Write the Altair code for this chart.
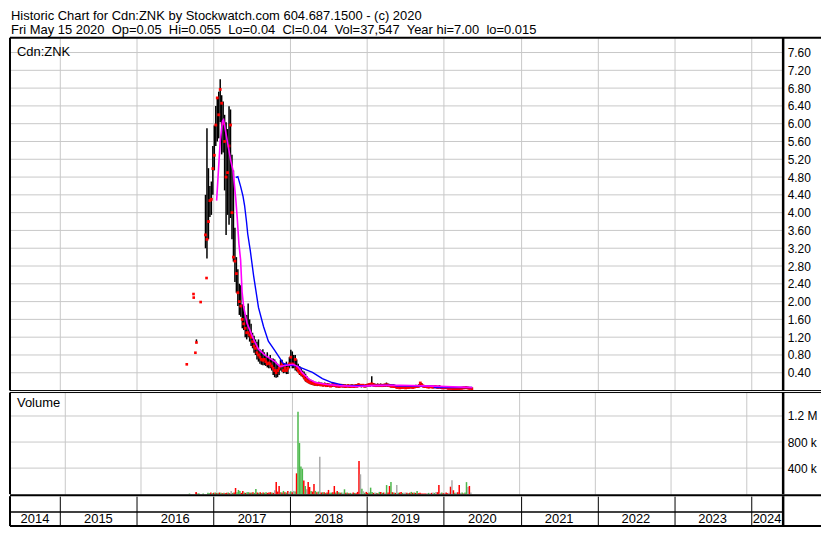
import altair as alt
import pandas as pd

F = "Liberation Sans"
W, HP, HV, HY = 776, 354, 102, 30
AX = 38
SP = "\u00a0 "
GRID = "#c8c8c8"

title_lines = [
    "Historic Chart for Cdn:ZNK by Stockwatch.com 604.687.1500 - (c) 2020",
    "Fri May 15 2020" + SP + "Op=0.05" + SP + "Hi=0.055" + SP + "Lo=0.04" + SP + "Cl=0.04" + SP
    + "Vol=37,547" + SP + "Year hi=7.00" + SP + "lo=0.015",
]

# ---- weekly price bars (high / low / close), weeks from 2016-11-21 ----
high = [
    4.4, 5.9, 5.0, 4.6, 4.7, 5.5, 5.96, 6.4, 6.6, 6.72,
    7.0, 6.64, 6.5, 6.2, 6.03, 5.88, 6.39, 6.32, 5.3, 4.95,
    3.66, 3.0, 2.73, 2.4, 2.37, 1.94, 1.9, 1.72, 1.7, 1.96,
    1.6, 1.5, 1.3, 1.23, 1.15, 1.1, 1.15, 0.93, 0.9, 0.93,
    0.86, 0.8, 0.86, 0.75, 0.8, 0.72, 0.72, 0.7, 0.65, 0.6,
    0.55, 0.69, 0.69, 0.62, 0.6, 0.65, 0.6, 0.75, 0.92, 0.88,
    0.8, 0.8, 0.7, 0.6, 0.55, 0.5, 0.45, 0.43, 0.38, 0.32,
    0.28, 0.25, 0.24, 0.22, 0.2, 0.2, 0.19, 0.2, 0.18, 0.18,
    0.17, 0.18, 0.16, 0.17, 0.16, 0.15, 0.16, 0.17, 0.15, 0.15,
    0.15, 0.14, 0.15, 0.14, 0.15, 0.14, 0.13, 0.14, 0.13, 0.14,
    0.14, 0.13, 0.14, 0.15, 0.16, 0.15, 0.14, 0.14, 0.13, 0.14,
    0.15, 0.16, 0.17, 0.32, 0.17, 0.16, 0.15, 0.16, 0.15, 0.16,
    0.15, 0.15, 0.16, 0.18, 0.16, 0.15, 0.15, 0.14, 0.14, 0.13,
    0.12, 0.12, 0.11, 0.12, 0.11, 0.12, 0.11, 0.12, 0.11, 0.12,
    0.12, 0.11, 0.12, 0.13, 0.12, 0.14, 0.18, 0.17, 0.13, 0.12,
    0.12, 0.12, 0.11, 0.12, 0.11, 0.11, 0.12, 0.11, 0.11, 0.12,
    0.1, 0.1, 0.09, 0.1, 0.09, 0.09, 0.08, 0.09, 0.08, 0.07,
    0.07, 0.06, 0.06, 0.07, 0.07, 0.08, 0.08, 0.09, 0.08, 0.08,
    0.07, 0.055,
]
low = [
    3.2, 2.97, 3.4, 3.9, 3.95, 4.4, 4.95, 5.5, 5.6, 5.67,
    6.03, 5.31, 5.35, 4.5, 3.5, 3.95, 3.73, 3.88, 3.4, 2.9,
    2.44, 2.2, 1.9, 1.7, 1.66, 1.4, 1.36, 1.2, 1.15, 1.2,
    1.1, 1.0, 0.95, 0.85, 0.8, 0.7, 0.65, 0.6, 0.58, 0.57,
    0.57, 0.55, 0.52, 0.5, 0.5, 0.45, 0.35, 0.3, 0.29, 0.3,
    0.35, 0.45, 0.42, 0.39, 0.4, 0.37, 0.37, 0.5, 0.55, 0.5,
    0.5, 0.45, 0.43, 0.4, 0.35, 0.32, 0.3, 0.25, 0.2, 0.18,
    0.16, 0.14, 0.13, 0.12, 0.11, 0.11, 0.1, 0.11, 0.1, 0.1,
    0.09, 0.1, 0.09, 0.08, 0.09, 0.08, 0.08, 0.09, 0.08, 0.07,
    0.07, 0.07, 0.08, 0.07, 0.07, 0.06, 0.07, 0.07, 0.06, 0.07,
    0.07, 0.06, 0.07, 0.07, 0.08, 0.08, 0.07, 0.08, 0.07, 0.07,
    0.08, 0.09, 0.09, 0.1, 0.09, 0.09, 0.08, 0.09, 0.08, 0.08,
    0.08, 0.08, 0.08, 0.09, 0.08, 0.08, 0.07, 0.07, 0.07, 0.06,
    0.05, 0.05, 0.04, 0.05, 0.05, 0.05, 0.04, 0.05, 0.05, 0.05,
    0.05, 0.05, 0.06, 0.06, 0.06, 0.07, 0.08, 0.08, 0.07, 0.06,
    0.06, 0.06, 0.05, 0.06, 0.05, 0.05, 0.06, 0.05, 0.05, 0.05,
    0.04, 0.04, 0.04, 0.04, 0.04, 0.03, 0.03, 0.03, 0.02, 0.015,
    0.015, 0.02, 0.02, 0.03, 0.03, 0.04, 0.04, 0.04, 0.04, 0.04,
    0.04, 0.04,
]
close = [
    3.5, 3.4, 3.8, 4.27, 4.3, 4.99, 5.29, 5.97, 6.58, 6.2,
    6.77, 6.46, 6.0, 5.6, 4.8, 4.9, 5.5, 5.97, 4.0, 3.0,
    2.91, 2.63, 2.2, 2.0, 1.9, 1.6, 1.5, 1.4, 1.3, 1.3,
    1.25, 1.2, 1.1, 1.0, 0.95, 0.85, 0.8, 0.75, 0.7, 0.68,
    0.7, 0.65, 0.6, 0.62, 0.6, 0.55, 0.5, 0.45, 0.4, 0.45,
    0.5, 0.55, 0.6, 0.45, 0.5, 0.45, 0.5, 0.6, 0.75, 0.6,
    0.58, 0.7, 0.5, 0.45, 0.4, 0.38, 0.35, 0.3, 0.25, 0.22,
    0.2, 0.18, 0.17, 0.16, 0.15, 0.14, 0.14, 0.15, 0.13, 0.13,
    0.12, 0.14, 0.11, 0.13, 0.12, 0.1, 0.12, 0.14, 0.11, 0.1,
    0.11, 0.09, 0.12, 0.1, 0.11, 0.09, 0.1, 0.11, 0.09, 0.1,
    0.1, 0.09, 0.11, 0.1, 0.13, 0.12, 0.11, 0.12, 0.1, 0.11,
    0.12, 0.13, 0.14, 0.15, 0.13, 0.12, 0.11, 0.12, 0.11, 0.12,
    0.11, 0.12, 0.12, 0.13, 0.12, 0.11, 0.1, 0.1, 0.09, 0.09,
    0.07, 0.08, 0.06, 0.07, 0.07, 0.08, 0.06, 0.07, 0.07, 0.08,
    0.08, 0.07, 0.08, 0.09, 0.09, 0.1, 0.17, 0.12, 0.1, 0.09,
    0.09, 0.08, 0.08, 0.09, 0.08, 0.08, 0.09, 0.08, 0.07, 0.08,
    0.07, 0.06, 0.06, 0.07, 0.06, 0.05, 0.05, 0.05, 0.03, 0.03,
    0.03, 0.04, 0.04, 0.05, 0.05, 0.06, 0.06, 0.07, 0.06, 0.05,
    0.05, 0.04,
]
# weekly volume (thousands) and direction g=up r=down n=unchanged
vol_k = [
    20, 15, 25, 15, 20, 25, 15, 20, 25, 20,
    15, 20, 15, 20, 25, 15, 50, 20, 25, 95,
    30, 65, 50, 20, 50, 25, 20, 30, 30, 20,
    25, 30, 20, 80, 25, 20, 30, 20, 25, 20,
    30, 20, 25, 30, 25, 20, 60, 185, 40, 125,
    30, 25, 50, 30, 25, 50, 30, 45, 30, 50,
    40, 320, 1265, 785, 425, 390, 210, 125, 75, 185,
    110, 50, 40, 155, 50, 30, 40, 575, 25, 30,
    30, 20, 25, 65, 20, 25, 30, 125, 25, 50,
    30, 20, 25, 20, 75, 20, 25, 15, 20, 15,
    25, 20, 15, 35, 510, 305, 85, 45, 20, 35,
    20, 25, 100, 35, 20, 25, 20, 15, 35, 35,
    20, 25, 20, 140, 25, 125, 185, 30, 25, 20,
    140, 20, 25, 35, 20, 20, 25, 20, 15, 20,
    35, 20, 25, 20, 50, 15, 20, 10, 10, 10,
    10, 15, 20, 15, 20, 25, 20, 35, 30, 140,
    20, 25, 15, 20, 25, 15, 20, 115, 215, 60,
    20, 25, 30, 140, 20, 25, 10, 25, 185, 110,
    125, 25,
]
vol_dir = list(
    "ggrgrgrgrg" "rgrrgrngrr" "gggrrgrggr" "grggrgrgrg" "grrrgrnrrr"
    "grgrgrngrn" "grggggrgnr" "rgrrgrgnrg" "rgrrggrrgr" "grgngrgrgn"
    "rgrrrngngr" "rgggrngrgr" "grngrrgrgr" "ngrrgnnrgr" "grgrgrrrrr"
    "rngnrngnrr" "ngrnrrnrnr" "gnrrngrggn" "rn"
)

# ---- sporadic early trades (2016) ----
early_dates = ["2016-08-26", "2016-09-27", "2016-09-28", "2016-10-06", "2016-10-11", "2016-10-31", "2016-11-28"]
early_close = [0.59, 2.17, 2.09, 0.85, 1.08, 1.99, 2.53]
early_high = [0.59, 2.17, 2.09, 0.85, 1.15, 1.99, 2.53]
early_vol_k = [10, 35, 20, 10, 10, 10, 0]
early_dir = list("grrgggg")

# ---- moving averages ----
mas_dates = ["2017-01-15", "2017-01-23", "2017-02-01", "2017-02-12", "2017-02-17", "2017-02-22",
             "2017-03-07", "2017-03-23", "2017-04-03", "2017-04-16", "2017-04-23", "2017-05-01",
             "2017-05-09", "2017-05-16", "2017-05-24", "2017-06-09", "2017-07-10", "2017-08-02",
             "2017-09-03", "2017-10-19", "2017-11-12", "2017-12-12", "2018-01-13", "2018-02-05",
             "2018-02-28", "2018-04-01", "2018-05-01", "2018-06-17", "2018-08-19", "2018-11-20",
             "2019-01-21", "2019-06-10", "2019-11-10", "2020-05-15"]
mas_vals = [4.27, 4.9, 5.6, 6.06, 6.09, 5.95, 5.60, 5.17, 4.95, 4.31, 3.88, 3.30,
            2.94, 2.22, 1.87, 1.51, 1.15, 0.93, 0.79, 0.65, 0.54, 0.57, 0.59, 0.54,
            0.39, 0.25, 0.18, 0.14, 0.11, 0.09, 0.11, 0.12, 0.10, 0.07]
mal_dates = ["2017-04-16", "2017-04-26", "2017-05-09", "2017-05-20", "2017-05-28", "2017-06-06",
             "2017-06-12", "2017-06-24", "2017-07-10", "2017-08-02", "2017-08-26", "2017-09-18",
             "2017-10-19", "2017-11-13", "2017-11-27", "2017-12-28", "2018-01-27", "2018-02-28",
             "2018-04-16", "2018-06-02", "2018-07-18", "2018-09-17", "2018-12-05", "2019-05-08",
             "2019-05-18", "2019-11-10", "2019-11-19", "2020-05-15"]
mal_vals = [4.79, 4.81, 4.59, 4.38, 4.16, 3.80, 3.52, 3.15, 2.58, 1.87, 1.44, 1.11,
            0.90, 0.72, 0.61, 0.57, 0.56, 0.50, 0.41, 0.27, 0.18, 0.11, 0.11, 0.12,
            0.10, 0.10, 0.07, 0.07]

price_ticks = [0.4, 0.8, 1.2, 1.6, 2.0, 2.4, 2.8, 3.2, 3.6, 4.0, 4.4, 4.8, 5.2, 5.6, 6.0, 6.4, 6.8, 7.2, 7.6]
vol_ticks = [400000, 800000, 1200000]
year_labels = ["2014", "2015", "2016", "2017", "2018", "2019", "2020", "2021", "2022", "2023", "2024"]
dom_start, dom_end = "2014-05-08", "2024-06-02"

# ---- tables ----
weeks = pd.date_range("2016-11-21", periods=len(high), freq="7D") + pd.Timedelta(days=2)
n = min(len(weeks), len(high), len(low), len(close), len(vol_k), len(vol_dir))
bars = pd.DataFrame({"date": weeks[:n], "high": high[:n], "low": low[:n], "close": close[:n]})
early = pd.DataFrame({"date": pd.to_datetime(early_dates), "high": early_high, "low": early_close, "close": early_close})
vol = pd.concat([
    pd.DataFrame({"date": pd.to_datetime(early_dates), "vol": [v * 1000 for v in early_vol_k], "dir": early_dir}),
    pd.DataFrame({"date": weeks[:n], "vol": [v * 1000 for v in vol_k[:n]], "dir": vol_dir[:n]}),
])
mas = pd.DataFrame({"date": pd.to_datetime(mas_dates), "v": mas_vals})
mal = pd.DataFrame({"date": pd.to_datetime(mal_dates), "v": mal_vals})
pgrid = pd.DataFrame({"v": price_ticks})
vgrid = pd.DataFrame({"v": vol_ticks})

ds, de = pd.Timestamp(dom_start), pd.Timestamp(dom_end)
mids = []
for lab in year_labels:
    y = int(lab)
    s = max(pd.Timestamp(f"{y}-01-01"), ds)
    e = min(pd.Timestamp(f"{y + 1}-01-01"), de)
    mids.append(s + (e - s) / 2)
years = pd.DataFrame({"date": mids, "label": year_labels})
one = pd.DataFrame({"a": [0]})

xscale = alt.Scale(domain=[alt.DateTime(year=2014, month=5, date=8), alt.DateTime(year=2024, month=6, date=2)])
year_starts = [alt.DateTime(year=int(y), month=1, date=1) for y in year_labels[1:]]


def xax(color=GRID):
    return alt.Axis(values=year_starts, grid=True, gridColor=color, gridOpacity=1, gridWidth=1,
                    labels=False, ticks=False, domain=False, title=None)


def X(color=GRID):
    return alt.X("date:T", scale=xscale, axis=xax(color))


def hrule(y, x1, x2, w):
    return alt.Chart(one).mark_rule(color="black", strokeWidth=w).encode(
        x=alt.value(x1), x2=alt.value(x2), y=alt.value(y))


def vrule(x, y1, y2, w):
    return alt.Chart(one).mark_rule(color="black", strokeWidth=w).encode(
        x=alt.value(x), y=alt.value(y1), y2=alt.value(y2))


def label(txt, x, y):
    return alt.Chart(one).mark_text(align="left", baseline="middle", font=F, fontSize=13, color="black").encode(
        x=alt.value(x), y=alt.value(y), text=alt.value(txt))


yp = alt.Scale(domain=[0, 7.93], nice=False, zero=False)
yax = alt.Axis(orient="right", values=price_ticks, format=".2f", ticks=False, domain=False, grid=False,
               labelPadding=4, labelOverlap=False, title=None, labelFont=F, labelFontSize=12,
               labelColor="black")

pg = alt.Chart(pgrid).mark_rule(color=GRID, strokeWidth=1).encode(
    y=alt.Y("v:Q", scale=yp, axis=yax), x=alt.value(0), x2=alt.value(W))
hl = alt.Chart(bars).mark_rule(color="black", strokeWidth=1.5).encode(
    x=X(), y=alt.Y("low:Q", scale=yp, axis=yax), y2="high:Q")
hl_early = alt.Chart(early).mark_rule(color="black", strokeWidth=1.5).encode(
    x=X(), y=alt.Y("low:Q", scale=yp, axis=yax), y2="high:Q")
cl = alt.Chart(bars).mark_square(color="red", size=8, opacity=1).encode(
    x=X(), y=alt.Y("close:Q", scale=yp, axis=yax))
cl_early = alt.Chart(early).mark_square(color="red", size=7, opacity=1).encode(
    x=X(), y=alt.Y("close:Q", scale=yp, axis=yax))
line_l = alt.Chart(mal).mark_line(color="#0000ff", strokeWidth=1.4).encode(
    x=X(), y=alt.Y("v:Q", scale=yp, axis=yax))
line_s = alt.Chart(mas).mark_line(color="#ff00ff", strokeWidth=1.6).encode(
    x=X(), y=alt.Y("v:Q", scale=yp, axis=yax))

price = alt.layer(
    pg, hl, hl_early, cl, cl_early, line_l, line_s,
    label("Cdn:ZNK", 7, 14),
    hrule(0, 0, W + AX, 2), vrule(0, 0, HP, 2), vrule(W, 0, HP, 2.5), hrule(HP, 0, W + AX, 1),
).properties(width=W, height=HP)

yv = alt.Scale(domain=[0, 1560000], nice=False)
yvax = alt.Axis(orient="right", values=vol_ticks, ticks=False, domain=False, grid=False, labelPadding=4,
                labelOverlap=False, title=None, labelFont=F, labelFontSize=12, labelColor="black",
                labelExpr="datum.value >= 1000000 ? format(datum.value / 1000000, '.1f') + ' M' : format(datum.value / 1000, 'd') + ' k'")
vg = alt.Chart(vgrid).mark_rule(color=GRID, strokeWidth=1).encode(
    y=alt.Y("v:Q", scale=yv, axis=yvax), x=alt.value(0), x2=alt.value(W))
vbars = alt.Chart(vol).mark_bar(size=1.5).encode(
    x=X(), y=alt.Y("vol:Q", scale=yv, axis=yvax),
    color=alt.Color("dir:N", scale=alt.Scale(domain=["g", "r", "n"], range=["#4cb84c", "#ff0000", "#aaaaaa"]), legend=None),
)
volume = alt.layer(
    vg, vbars, label("Volume", 7, 11),
    hrule(0, 0, W + AX, 1), vrule(0, 0, HV, 2), vrule(W, 0, HV, 2.5), hrule(HV + 1, 0, W + AX, 2),
).properties(width=W, height=HV)

ytext = alt.Chart(years).mark_text(font=F, fontSize=13, color="black", baseline="middle").encode(
    x=X("black"), y=alt.value(23), text="label:N")
yearrow = alt.layer(
    ytext, hrule(16, 0, W, 1.5), vrule(0, 0, HY, 2), vrule(W, 0, HY, 2.5), hrule(HY, 0, W + AX, 2),
).properties(width=W, height=HY)

chart = alt.vconcat(price, volume, yearrow, spacing=2, bounds="flush").properties(
    title=alt.TitleParams(title_lines, anchor="start", fontSize=13, font=F, fontWeight="normal",
                          color="black", offset=0, lineHeight=14, dx=2),
    padding={"left": 1, "top": 0, "right": 0, "bottom": 1},
).configure_view(stroke=None)

chart.save("out.html", embed_options={"renderer": "svg", "actions": False})
